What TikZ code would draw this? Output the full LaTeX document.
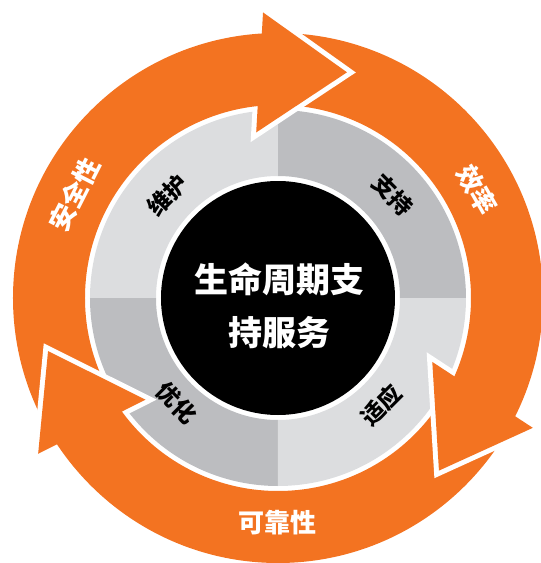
\documentclass[tikz,border=0pt]{standalone}
\usepackage{fontspec}
\setmainfont{Noto Sans CJK SC}
\usetikzlibrary{calc}
\definecolor{ringorange}{HTML}{F37321}
\definecolor{lightgrey}{HTML}{DCDDDF}
\definecolor{darkgrey}{HTML}{BCBDC0}

\begin{document}
\begin{tikzpicture}[x=1pt, y=1pt]
        % Define styles for the labels
        \tikzstyle{steplabel} = [font=\fontsize{23}{26}\selectfont\bfseries, text=black, inner sep=0pt]
        \tikzstyle{ringlabel} = [font=\fontsize{26}{30}\selectfont\bfseries, text=white, inner sep=0pt]
        \useasboundingbox (-278,-265) rectangle (263,298);

        % Grey ring in four quarters
        \fill[darkgrey] (0:188) arc (0:90:188) -- (90:122) arc (90:0:122) -- cycle;
        \fill[lightgrey] (90:188) arc (90:180:188) -- (180:122) arc (180:90:122) -- cycle;
        \fill[darkgrey] (180:188) arc (180:270:188) -- (270:122) arc (270:180:122) -- cycle;
        \fill[lightgrey] (270:188) arc (270:360:188) -- (360:122) arc (360:270:122) -- cycle;

        % Orange ring
        \fill[ringorange, even odd rule] (0,0) circle (265) (0,0) circle (193);

        % Arrow heads with a white edge
        \foreach \rot in {0,-120,120} {
            \coordinate (tip) at (\rot+73:236);
            \coordinate (bout) at (\rot+93:286);
            \coordinate (bin) at (\rot+97.5:167);
            \draw[white, line width=10, line join=miter] ($(bin)!0.2!(bout)$) -- (bin) -- (tip) -- (bout);
            \fill[ringorange] (bout) -- (tip) -- (bin) -- cycle;
        }

        % Black centre
        \node[circle, fill=black, minimum size=234, inner sep=0pt] (core) at (0,0) {};
        \node[font=\fontsize{34}{53}\selectfont\bfseries, text=white, align=center] (title) at (2,-8) {生命周期支\\持服务};

        % Steps on the grey ring
        \node[steplabel, rotate=45] (maint) at (137:151) {维护};
        \node[steplabel, rotate=-45] (supp) at (42:154) {支持};
        \node[steplabel, rotate=45] (adapt) at (-46:149) {适应};
        \node[steplabel, rotate=-45] (optim) at (226:146) {优化};

        % Labels on the orange ring
        \node[ringlabel, rotate=-60] (eff) at (28.5:227) {效率};
        \node[ringlabel] (rel) at (270:225) {可靠性};
        \node[ringlabel, rotate=63] (safe) at (153:228) {安全性};
    \end{tikzpicture}
\end{document}
